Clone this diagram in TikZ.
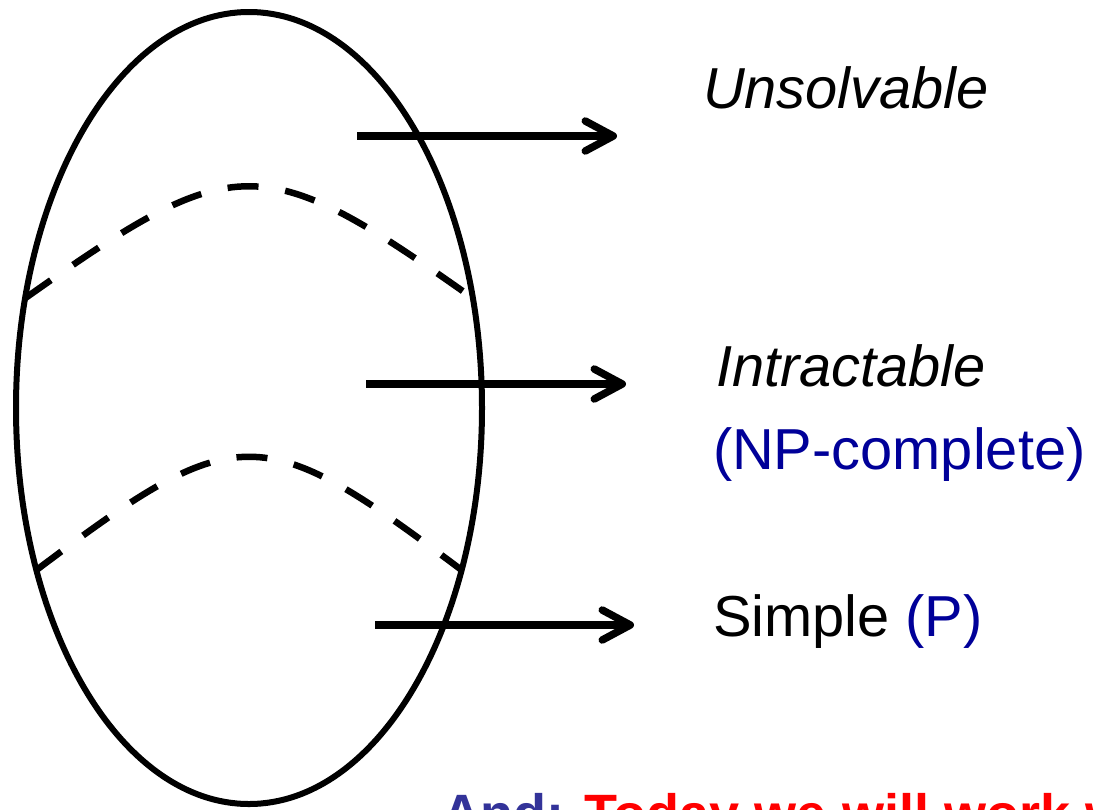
\documentclass[tikz,border=0pt]{standalone}
\usepackage{fontspec}
\setmainfont{Liberation Sans}
\usetikzlibrary{arrows.meta}
\definecolor{npblue}{RGB}{0,0,153}
\definecolor{andblue}{RGB}{51,51,153}
\definecolor{todayred}{RGB}{255,0,0}
\tikzset{
  oval/.style={line width=6pt},
  border/.style={line width=6.5pt, dash pattern=on 31pt off 27pt},
  pointer/.style={line width=7.5pt, -{Straight Barb[length=28pt,width=30pt,round]}},
  label/.style={anchor=base west, inner sep=0pt, outer sep=0pt, font=\fontsize{57.8}{62}\selectfont}
}
\begin{document}
\begin{tikzpicture}[x=1pt,y=-1pt]
\clip (0,0) rectangle (1097,809);
\useasboundingbox (0,0) rectangle (1097,809);
\fill[white] (0,0) rectangle (1097,809);

% outer oval
\draw[oval] (249,408) ellipse [x radius=233, y radius=396];

% dashed boundaries
\coordinate (t1) at (25.5,298);
\coordinate (t2) at (472.5,298);
\coordinate (b1) at (36.5,570);
\coordinate (b2) at (461.5,570);
\draw[border] (t1) .. controls (236,149) and (262,149) .. (t2);
\draw[border] (b1) .. controls (237,419) and (261,419) .. (b2);

% arrows
\coordinate (a1) at (357,136);
\coordinate (a2) at (617,136);
\coordinate (m1) at (366,384);
\coordinate (m2) at (626,384);
\coordinate (s1) at (375,625);
\coordinate (s2) at (634,625);
\draw[pointer] (a1) -- (a2);
\draw[pointer] (m1) -- (m2);
\draw[pointer] (s1) -- (s2);

% labels
\node[label] (unsolv) at (703,108) {\itshape Unsolvable};
\node[label] (intract) at (716,386) {\itshape Intractable};
\node[label, text=npblue] (npc) at (713,469) {(NP-complete)};
\node[label] (simple) at (713,636) {Simple \textcolor{npblue}{(P)}};
\node[label, font=\fontsize{54}{58}\selectfont\bfseries] (today) at (442,832)
  {\textcolor{andblue}{And:} \textcolor{todayred}{Today we will work w}};
\end{tikzpicture}
\end{document}
